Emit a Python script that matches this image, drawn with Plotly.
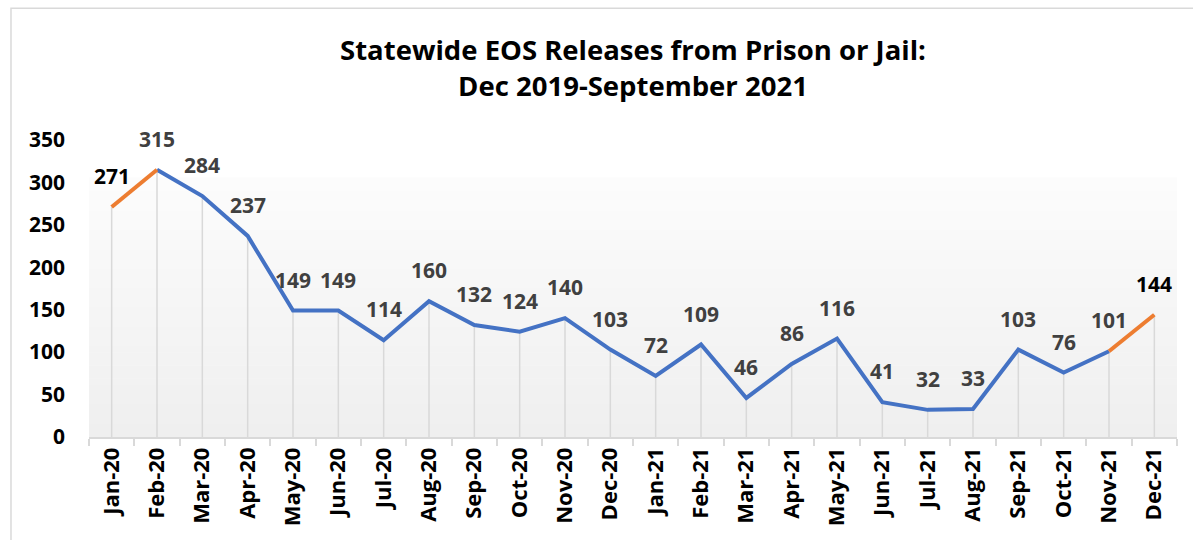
import plotly.graph_objects as go

# Monthly EOS releases
months = ["Jan-20", "Feb-20", "Mar-20", "Apr-20", "May-20", "Jun-20", "Jul-20", "Aug-20",
          "Sep-20", "Oct-20", "Nov-20", "Dec-20", "Jan-21", "Feb-21", "Mar-21", "Apr-21",
          "May-21", "Jun-21", "Jul-21", "Aug-21", "Sep-21", "Oct-21", "Nov-21", "Dec-21"]
releases = [271, 315, 284, 237, 149, 149, 114, 160, 132, 124, 140, 103,
            72, 109, 46, 86, 116, 41, 32, 33, 103, 76, 101, 144]

# months whose labels are drawn in black rather than grey
black_label_months = ["Jan-20", "Dec-21"]
y_ticks = [0, 50, 100, 150, 200, 250, 300, 350]

BLUE = "#4472C4"
ORANGE = "#ED7D31"
FONT = "Open Sans"

fig = go.Figure()

# vertical drop lines from each point down to zero
drop_x, drop_y = [], []
for m, v in zip(months, releases):
    drop_x += [m, m, None]
    drop_y += [0, v, None]
fig.add_trace(go.Scatter(x=drop_x, y=drop_y, mode="lines",
                         line=dict(color="#d9d9d9", width=1.5),
                         hoverinfo="skip", showlegend=False))

# main series (blue) from Feb-20 through Nov-21
fig.add_trace(go.Scatter(x=months[1:-1], y=releases[1:-1], mode="lines",
                         line=dict(color=BLUE, width=4), showlegend=False))
# highlighted end segments (orange)
fig.add_trace(go.Scatter(x=months[:2], y=releases[:2], mode="lines",
                         line=dict(color=ORANGE, width=4), showlegend=False))
fig.add_trace(go.Scatter(x=months[-2:], y=releases[-2:], mode="lines",
                         line=dict(color=ORANGE, width=4), showlegend=False))

# value labels
for m, v in zip(months, releases):
    fig.add_annotation(x=m, y=v, text=str(v), showarrow=False, yshift=31,
                       font=dict(family=FONT, size=21, weight="bold",
                                 color="#000000" if m in black_label_months else "#404040"),
                       xanchor="center", yanchor="middle")

# plot-area gradient: light grey at the bottom fading to white
shapes = []
n_bands = 40
top = 0.872
lo, hi = 0xEF, 0xFC
for i in range(n_bands):
    y0 = top * i / n_bands
    y1 = top * (i + 1) / n_bands
    c = round(lo + (hi - lo) * i / (n_bands - 1))
    col = f"rgb({c},{c},{c})"
    shapes.append(dict(type="rect", xref="x domain", yref="y domain",
                       x0=0, x1=1, y0=y0, y1=y1 + 0.002,
                       fillcolor=col, line=dict(width=0), layer="below"))

# chart frame
shapes.append(dict(type="rect", xref="paper", yref="paper",
                   x0=-0.0717, x1=1.2, y0=-0.6, y1=1.444,
                   line=dict(color="#d9d9d9", width=1.5), fillcolor="rgba(0,0,0,0)",
                   layer="below"))

fig.update_layout(
    width=1193, height=540,
    margin=dict(l=89, r=16, t=140, b=103),
    paper_bgcolor="white", plot_bgcolor="white",
    shapes=shapes,
    title=dict(text="Statewide EOS Releases from Prison or Jail:<br>Dec 2019-September 2021",
               x=0.5, xref="paper", xanchor="center", y=0.888, yanchor="middle",
               font=dict(family=FONT, size=27.5, color="#000000", weight="bold")),
    xaxis=dict(type="category", categoryorder="array", categoryarray=months,
               range=[-0.5, len(months) - 0.5],
               tickson="boundaries", ticks="outside", ticklen=7, tickcolor="#d9d9d9",
               tickwidth=1.5, showline=True, linecolor="#d9d9d9", linewidth=1.5,
               showgrid=False, zeroline=False, tickangle=-90,
               tickfont=dict(family=FONT, size=22, color="#000000", weight="bold")),
    yaxis=dict(range=[0, 350], tickvals=y_ticks, showgrid=False, zeroline=False,
               showline=False, ticks="", ticklabelstandoff=23,
               tickfont=dict(family=FONT, size=21, color="#000000", weight="bold")),
)

fig.write_html("out.html")
